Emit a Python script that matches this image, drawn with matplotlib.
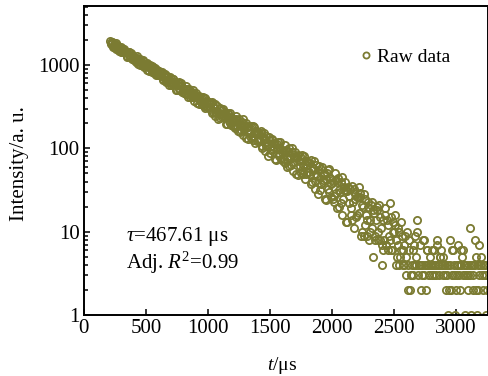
import numpy as np
import matplotlib
matplotlib.use("Agg")
import matplotlib.pyplot as plt

plt.rcParams['font.family'] = ['Liberation Serif', 'DejaVu Serif']
plt.rcParams['mathtext.fontset'] = 'custom'
plt.rcParams['mathtext.rm'] = 'Liberation Serif'
plt.rcParams['mathtext.it'] = 'Liberation Serif:italic'

# first list holds t = 210, 220, ... 3250 us, second t = 215, 225, ... 3245 us
counts_a = [
    1942, 1782, 1908, 1663, 1730, 1556, 1731, 1583, 1620, 1437,
    1443, 1572, 1428, 1445, 1257, 1415, 1273, 1401, 1182, 1260,
    1227, 1100, 1209, 1038, 1191, 1088, 1005, 1145, 988, 1037,
    875, 985, 994, 889, 831, 958, 860, 757, 868, 770,
    828, 733, 825, 674, 727, 622, 744, 656, 688, 578,
    589, 680, 594, 612, 499, 606, 521, 611, 476, 532,
    517, 445, 514, 417, 513, 456, 410, 498, 408, 442,
    348, 418, 427, 367, 337, 416, 361, 302, 372, 316,
    354, 300, 358, 272, 306, 246, 321, 271, 293, 230,
    239, 297, 247, 260, 194, 261, 212, 268, 189, 226,
    219, 174, 222, 161, 226, 191, 164, 223, 167, 190,
    133, 179, 187, 151, 132, 186, 152, 115, 162, 128,
    154, 121, 160, 106, 129, 92, 142, 111, 127, 87,
    96, 131, 103, 112, 72, 113, 85, 120, 74, 96,
    93, 67, 96, 60, 100, 80, 64, 101, 68, 82,
    49, 77, 83, 61, 51, 83, 64, 43, 71, 52,
    68, 49, 72, 40, 55, 33, 64, 46, 55, 32,
    37, 60, 42, 48, 24, 51, 33, 56, 26, 42,
    39, 23, 42, 19, 44, 32, 22, 45, 25, 34,
    13, 31, 34, 22, 16, 35, 23, 11, 28, 16,
    26, 34, 29, 10, 20, 9, 25, 14, 20, 8,
    10, 23, 5, 17, 9, 18, 10, 21, 8, 4,
    14, 8, 16, 7, 12, 9, 22, 6, 13, 10,
    12, 4, 7, 10, 5, 13, 6, 4, 9, 3,
    2, 8, 2, 3, 6, 4, 9, 5, 14, 4,
    7, 2, 4, 8, 4, 2, 6, 3, 5, 4,
    3, 6, 4, 3, 7, 4, 5, 6, 4, 5,
    4, 2, 3, 1, 8, 2, 3, 6, 1, 2,
    3, 7, 4, 6, 5, 3, 1, 4, 3, 2,
    11, 1, 4, 2, 4, 5, 1, 2, 7, 4,
    3, 2, 4, 1, 2,
]
counts_b = [
    1820, 1894, 1659, 1767, 1816, 1601, 1622, 1453, 1647, 1502,
    1568, 1422, 1471, 1279, 1372, 1425, 1239, 1311, 1243, 1144,
    1137, 1279, 1111, 1167, 1011, 1062, 1112, 936, 1031, 1066,
    995, 850, 933, 967, 843, 800, 924, 845, 763, 836,
    752, 810, 668, 746, 787, 655, 678, 577, 710, 624,
    674, 586, 625, 507, 577, 617, 502, 556, 518, 459,
    464, 555, 458, 496, 408, 442, 476, 374, 435, 460,
    423, 339, 393, 416, 345, 323, 401, 356, 311, 357,
    310, 348, 265, 316, 343, 268, 283, 225, 307, 259,
    290, 242, 266, 198, 242, 269, 203, 237, 216, 183,
    186, 247, 187, 213, 159, 183, 208, 144, 185, 203,
    181, 129, 165, 183, 140, 126, 179, 152, 124, 156,
    127, 153, 101, 135, 153, 107, 118, 82, 136, 107,
    127, 99, 115, 75, 101, 118, 80, 101, 90, 71,
    74, 111, 75, 93, 61, 76, 91, 54, 79, 91,
    78, 48, 70, 82, 55, 49, 80, 65, 49, 69,
    52, 67, 37, 58, 70, 41, 49, 28, 61, 44,
    57, 39, 50, 25, 43, 55, 30, 44, 37, 25,
    27, 51, 29, 40, 20, 30, 39, 16, 32, 39,
    32, 13, 27, 33, 19, 14, 33, 25, 15, 26,
    17, 26, 9, 21, 28, 12, 16, 9, 23, 14,
    21, 11, 18, 8, 14, 20, 8, 15, 11, 7,
    6, 19, 7, 14, 6, 8, 15, 6, 10, 16,
    8, 5, 11, 4, 6, 9, 4, 7, 5, 10,
    4, 6, 3, 4, 3, 7, 4, 10, 3, 4,
    4, 3, 8, 3, 4, 6, 4, 3, 4, 6,
    4, 3, 4, 8, 4, 3, 5, 4, 3, 4,
    3, 4, 4, 2, 4, 6, 3, 4, 3, 4,
    4, 3, 2, 4, 6, 4, 3, 4, 3, 4,
    3, 4, 3, 4, 8, 2, 4, 3, 4, 5,
    4, 3, 4, 3,
]
t_a = 210 + 10 * np.arange(len(counts_a))
t_b = 215 + 10 * np.arange(len(counts_b))
t = np.concatenate([t_a, t_b])
intensity = np.concatenate([counts_a, counts_b])
order = np.argsort(t)
t, intensity = t[order], intensity[order]

yticks = [1, 10, 100, 1000]
ytick_labels = ['1', '10', '100', '1000']
xticks = [0, 500, 1000, 1500, 2000, 2500, 3000]

color = '#7b7b32'

fig = plt.figure(figsize=(4.88, 3.76), dpi=100)
ax = fig.add_axes([0.172, 0.162, 0.827, 0.822])

ax.plot(t, intensity, linestyle='none', marker='o', markersize=5.2,
        markerfacecolor='none', markeredgecolor=color, markeredgewidth=1.3,
        label='Raw data')

ax.set_yscale('log')
ax.set_ylim(1, 5100)
ax.set_xlim(0, 3255)
ax.set_yticks(yticks)
ax.set_yticklabels(ytick_labels)
ax.set_xticks(xticks)

ax.tick_params(which='both', direction='in', top=False, right=False,
               labelsize=15, width=1.1)
ax.tick_params(which='major', length=4.5, pad=3)
ax.tick_params(which='minor', length=3)
for sp in ax.spines.values():
    sp.set_linewidth(1.4)

ax.set_ylabel('Intensity/a. u.', fontsize=15)
ax.yaxis.set_label_coords(-0.135, 0.49)
ax.set_xlabel('$t$/μs', fontsize=14)
ax.xaxis.set_label_coords(0.49, -0.128)

ax.text(0.104, 0.255, r'$\tau$=467.61 μs', transform=ax.transAxes,
        fontsize=15, va='center', ha='left')
ax.text(0.104, 0.17, r'Adj. $R^2$=0.99', transform=ax.transAxes,
        fontsize=15, va='center', ha='left')

ax.legend(loc='center left', bbox_to_anchor=(0.688, 0.835), frameon=False,
          fontsize=14, handlelength=0.5, handletextpad=0.3,
          borderpad=0, borderaxespad=0, markerscale=0.85)

fig.savefig('out.png', dpi=100)
